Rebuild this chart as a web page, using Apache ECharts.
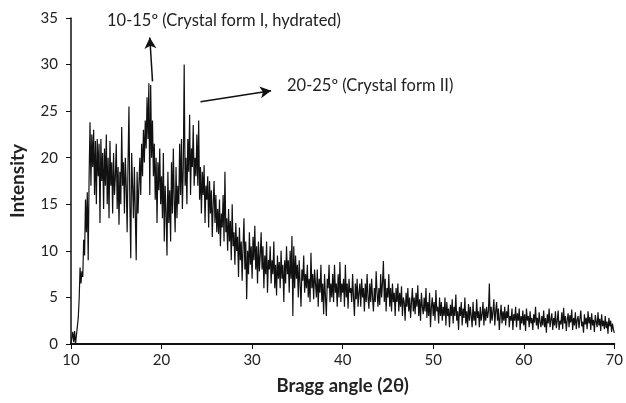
<!DOCTYPE html>
<html>
<head>
<meta charset="utf-8">
<script src="https://cdn.jsdelivr.net/npm/echarts@6/dist/echarts.min.js"></script>
<style>html,body{margin:0;padding:0;background:#fff}#c{width:626px;height:403px}</style>
</head>
<body>
<div id="c"></div>
<script>
// Bragg angle sampling (degrees 2θ)
const angleStart = 10;
const angleStep = 0.1;
const xTicks = [10, 20, 30, 40, 50, 60, 70];
const yTicks = [0, 5, 10, 15, 20, 25, 30, 35];

// Intensity values, one row per degree (10 samples each)
const intensity10to20 = [
  0, 0, 1.3, 0.2, 1.4, 0, 0, 0, 2.8, 4.8,
  8.2, 6.5, 7.8, 7.2, 11.2, 9.5, 15.5, 12, 16.3, 9,
  18, 23.8, 17, 22.5, 19, 23, 16, 21.8, 15, 22,
  18, 21.5, 13, 22, 17.5, 20.5, 14.5, 21, 17, 22.5,
  15, 20, 13.5, 21.8, 17, 19.5, 14, 20.5, 16, 18,
  21.5, 14.5, 19, 12.8, 18.5, 15, 23.3, 17, 19.5, 14,
  20, 17, 12, 19.5, 25.5, 15, 9.2, 20.5, 17, 13.5,
  19, 14, 9, 18.5, 14, 17, 20, 16, 21.5, 18,
  23, 19.5, 24, 21, 26.5, 22, 28, 16, 27.8, 20,
  24, 18, 21.5, 15.5, 20, 13, 19.5, 16.5, 21, 15
];
const intensity20to30 = [
  18, 13.5, 20.5, 11, 17, 14, 9.5, 18.5, 13, 16.5,
  11, 19.5, 14, 21, 15.5, 12, 19, 13.5, 17, 15,
  21.5, 16, 22, 14.5, 19, 30, 17, 20, 15, 22,
  18.5, 24.6, 16, 21, 19, 23.5, 17, 20, 18, 22.5,
  17, 24, 15.5, 19, 14, 18.5, 16, 19.2, 13, 17,
  15.5, 18, 12.5, 17.5, 14, 16.5, 11.5, 15, 17.5, 13,
  16, 12, 14.5, 11.8, 15.5, 10.5, 14, 12.5, 16, 11,
  18.5, 12, 13.5, 10, 14.5, 11, 13.2, 9, 15, 10.5,
  12, 8.5, 13, 10, 11.5, 7.2, 12.5, 9, 11, 6.8,
  10.5, 13.5, 8, 11, 4.8, 10, 7.5, 12, 8.5, 10.5
];
const intensity30to40 = [
  7, 11.5, 9, 12.7, 8, 10.5, 6.5, 11, 7.8, 9.5,
  12, 8, 10.5, 6, 9.5, 7.5, 11, 5.5, 9, 8,
  10.5, 6.5, 9, 7.5, 11, 6, 8.5, 5.2, 9.5, 7,
  8.8, 6, 10, 7, 8.5, 4.5, 9, 6.5, 10.5, 7.5,
  9, 5.5, 10, 7, 11.6, 3, 10.5, 6, 9.5, 7,
  8.5, 5, 9, 6.5, 4, 8, 6.8, 9.5, 5.5, 7.5,
  6, 8.5, 5, 7, 4.5, 9.8, 6, 7.5, 4.8, 8,
  6.5, 5, 8, 4, 7, 5.5, 8.5, 4.5, 6.5, 3.2,
  7.5, 5, 3, 7, 6, 8.5, 4.5, 6.5, 5, 7.5,
  4.5, 8.5, 5.5, 6.5, 4, 7.5, 5, 8.8, 4.5, 6.5
];
const intensity40to50 = [
  5.5, 7, 4, 8.5, 5, 6.5, 3.8, 7, 5.5, 6,
  4.5, 7.5, 5, 3, 6.5, 4.8, 7, 4, 5.5, 6.5,
  4, 7, 5, 6, 3.5, 6.5, 4.5, 7.5, 5, 3.8,
  6.5, 4.5, 7, 5, 3.5, 6, 4.5, 7.8, 5.5, 4,
  6, 4.2, 7.5, 5, 6.5, 8.9, 4.5, 7, 3.5, 6,
  5, 7.5, 4, 6, 3.5, 6.5, 4.5, 5.5, 3, 6,
  4.5, 6.5, 3.5, 5.5, 4, 6.2, 3, 5, 4.5, 2.5,
  5.5, 4, 6, 3.5, 5, 2.8, 4.5, 6, 3.5, 5,
  3.2, 5.5, 4, 6.3, 3, 4.8, 2.5, 5.5, 4, 3.2,
  5, 3.5, 6, 2.8, 4.5, 3, 5.5, 1.8, 4, 5
];
const intensity50to60 = [
  3, 4.5, 2.5, 5.8, 3.5, 4, 2.2, 5, 3, 4.5,
  2.5, 4, 3, 5, 2, 4.5, 3, 3.8, 1.8, 4.2,
  3, 4.8, 2.2, 4, 3, 5.3, 2.5, 3.5, 1.5, 4,
  3, 4.5, 2, 3.8, 2.8, 5, 2.2, 3.5, 1.8, 4.3,
  2.5, 4, 3, 1.8, 4.5, 2.5, 3.5, 2, 4.8, 2.8,
  3.5, 1.8, 4, 2.5, 3.2, 4.5, 2, 3.8, 2.5, 4,
  2.8, 3.5, 6.5, 2.2, 4, 2.5, 3.5, 4.8, 2, 3.5,
  4.5, 2.5, 3.8, 1.5, 3, 4.2, 2.2, 3.5, 2.5, 4,
  2, 3.5, 2.8, 4.2, 1.8, 3, 2.5, 3.8, 1.5, 3.2,
  2.5, 4, 1.8, 3.3, 2.5, 3.8, 1.5, 3, 2.2, 3.6
];
const intensity60to70 = [
  2, 3.2, 1.4, 3.8, 2.5, 3, 1.8, 3.5, 2.2, 2.8,
  1.5, 3.2, 2.3, 4, 2, 2.8, 1.6, 3.4, 2.4, 1.8,
  3, 2, 3.6, 1.8, 2.8, 1.2, 3.2, 2.2, 3.8, 1.8,
  2.6, 3.3, 1.5, 2.8, 2, 3.5, 1.7, 2.5, 3.6, 1.5,
  2.5, 2.1, 3.4, 1.6, 3.9, 2.2, 3.0, 1.4, 2.6, 3.3,
  1.8, 3.1, 2.3, 3.7, 1.5, 2.8, 2.0, 3.4, 1.6, 2.6,
  3.0, 1.7, 2.7, 3.6, 1.9, 2.4, 1.2, 3.2, 2.1, 2.8,
  1.6, 3.5, 2.2, 2.9, 1.5, 3.3, 2.0, 2.6, 1.3, 3.1,
  2.4, 1.8, 3.4, 2.0, 2.7, 1.4, 3.2, 1.9, 2.5, 1.6,
  3.0, 1.7, 2.4, 1.1, 2.8, 1.9, 2.5, 1.3, 2.2, 1.6,
  1.2
];

// Annotations: label text, arrow tail [x,y] and arrow head [x,y] in data units
const annotation1 = { text: '10-15º (Crystal form I, hydrated)', from: [19.0, 28.2], to: [18.7, 32.9] };
const annotation2 = { text: '20-25º (Crystal form II)', from: [24.3, 26.0], to: [32.1, 27.2] };

const intensity = [].concat(intensity10to20, intensity20to30, intensity30to40,
  intensity40to50, intensity50to60, intensity60to70);
const seriesData = intensity.map((v, i) => [+(angleStart + i * angleStep).toFixed(2), v]);

const FONT = 'Lato, "Liberation Sans", sans-serif';
const chart = echarts.init(document.getElementById('c'), null, { renderer: 'canvas' });
chart.setOption({
  animation: false,
  backgroundColor: '#fff',
  grid: { left: 71, right: 9, top: 18, bottom: 59, containLabel: false },
  xAxis: {
    type: 'value', min: xTicks[0], max: xTicks[xTicks.length - 1], interval: 10,
    name: 'Bragg angle (2θ)', nameLocation: 'middle', nameGap: 33,
    nameTextStyle: { fontFamily: FONT, fontWeight: 'bold', fontSize: 18.5, color: '#222' },
    axisLine: { show: true, onZero: false, lineStyle: { color: '#111', width: 2 } },
    axisTick: { show: true, length: 5, lineStyle: { color: '#111', width: 1 } },
    axisLabel: { fontFamily: FONT, fontSize: 15, color: '#222', margin: 9 },
    splitLine: { show: false }
  },
  yAxis: {
    type: 'value', min: yTicks[0], max: yTicks[yTicks.length - 1], interval: 5,
    name: 'Intensity', nameLocation: 'middle', nameGap: 44,
    nameTextStyle: { fontFamily: FONT, fontWeight: 'bold', fontSize: 19, color: '#222' },
    axisLine: { show: true, lineStyle: { color: '#111', width: 1.5 } },
    axisTick: { show: true, length: 5, lineStyle: { color: '#111', width: 1 } },
    axisLabel: { fontFamily: FONT, fontSize: 15, color: '#222', margin: 13 },
    splitLine: { show: false }
  },
  series: [{
    type: 'line',
    data: seriesData,
    showSymbol: false,
    symbol: 'none',
    lineStyle: { color: '#111', width: 1.2 },
    markLine: {
      silent: true,
      symbol: ['none', 'arrow'],
      symbolSize: [9, 11],
      label: { show: false },
      lineStyle: { color: '#111', width: 1.5, type: 'solid' },
      data: [
        [{ coord: annotation1.from }, { coord: annotation1.to }],
        [{ coord: annotation2.from }, { coord: annotation2.to }]
      ]
    }
  }],
  graphic: [
    { type: 'text', left: 107, top: 12, style: { text: annotation1.text, font: '16.5px ' + FONT, fill: '#222' } },
    { type: 'text', left: 287, top: 77, style: { text: annotation2.text, font: '16.5px ' + FONT, fill: '#222' } }
  ]
});
</script>
</body>
</html>
